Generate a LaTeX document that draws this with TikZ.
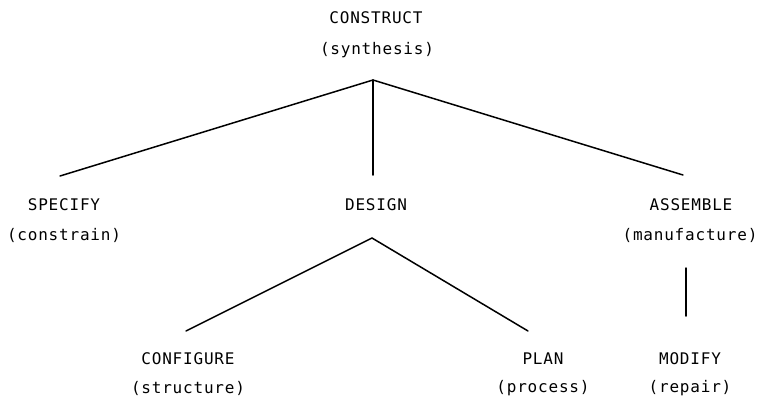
\documentclass[tikz,border=0pt]{standalone}
\usepackage{fontspec}
\setmonofont[LetterSpace=5]{DejaVu Sans Mono}
\begin{document}
\begin{tikzpicture}[x=1pt,y=-1pt,
  term/.style={font=\ttfamily\fontsize{16}{18}\selectfont, inner sep=0pt},
  gloss/.style={term},
  link/.style={line width=1.5pt, line cap=round}]
\useasboundingbox (0,0) rectangle (760,402);

% top concept
\node[term]  (construct)  at (376,18)  {CONSTRUCT};
\node[gloss] (synthesis)  at (377,50)  {(synthesis)};

% second level
\node[term]  (specify)    at (64,205)  {SPECIFY};
\node[gloss] (constrain)  at (64,235)  {(constrain)};
\node[term]  (design)     at (376,205) {DESIGN};
\node[term]  (assemble)   at (691,205) {ASSEMBLE};
\node[gloss] (manufacture) at (690,235) {(manufacture)};

% third level
\node[term]  (configure)  at (188,359) {CONFIGURE};
\node[gloss] (structure)  at (188,388) {(structure)};
\node[term]  (plan)       at (543,359) {PLAN};
\node[gloss] (process)    at (543,388) {(process)};
\node[term]  (modify)     at (690,359) {MODIFY};
\node[gloss] (repair)     at (690,388) {(repair)};

% branch points and branch ends
\coordinate (c-fork)   at (373,80);
\coordinate (s-end)    at (60,176);
\coordinate (d-end)    at (373,175);
\coordinate (a-end)    at (683,175);
\coordinate (d-fork)   at (372,238);
\coordinate (cf-end)   at (186,331);
\coordinate (p-end)    at (528,331);
\coordinate (m-top)    at (686,268);
\coordinate (m-end)    at (686,316);

\draw[link] (s-end) -- (c-fork) -- (a-end);
\draw[link] (c-fork) -- (d-end);
\draw[link] (cf-end) -- (d-fork) -- (p-end);
\draw[link] (m-top) -- (m-end);
\end{tikzpicture}
\end{document}
